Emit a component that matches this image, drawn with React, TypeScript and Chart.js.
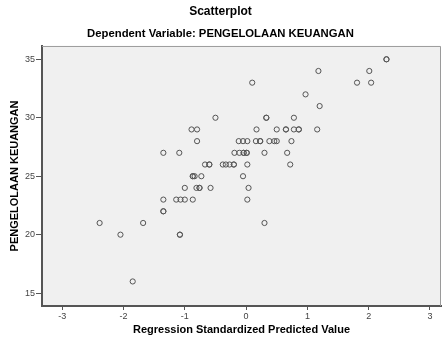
import React, { useEffect, useRef } from "react";
import { Chart, registerables } from "chart.js";

Chart.register(...registerables);

// Regression standardized predicted value (x) and observed PENGELOLAAN KEUANGAN (y)
const predictedValues: number[] = [
  2.29, 2.29,
  1.18, 2.01,
  0.10, 1.81, 2.04,
  0.97,
  1.20,
  -0.50, 0.33, 0.33, 0.78,
  -0.89, -0.80, 0.17, 0.50, 0.65, 0.65, 0.78, 0.86, 0.86, 1.16,
  -0.80, -0.12, -0.05, 0.02, 0.16, 0.23, 0.23, 0.38, 0.46, 0.50, 0.74,
  -1.35, -1.09, -0.19, -0.11, -0.04, -0.04, 0.01, 0.01, 0.30, 0.67,
  -0.67, -0.60, -0.60, -0.38, -0.33, -0.27, -0.20, -0.20, 0.02, 0.72,
  -0.87, -0.87, -0.84, -0.73, -0.05,
  -1.00, -0.81, -0.76, -0.76, -0.58, 0.04,
  -1.35, -1.14, -1.07, -1.00, -0.87, 0.02,
  -1.35, -1.35,
  -2.39, -1.68, 0.30,
  -2.05, -1.08, -1.08,
  -1.85,
];

const observedValues: number[] = [
  35, 35,
  34, 34,
  33, 33, 33,
  32,
  31,
  30, 30, 30, 30,
  29, 29, 29, 29, 29, 29, 29, 29, 29, 29,
  28, 28, 28, 28, 28, 28, 28, 28, 28, 28, 28,
  27, 27, 27, 27, 27, 27, 27, 27, 27, 27,
  26, 26, 26, 26, 26, 26, 26, 26, 26, 26,
  25, 25, 25, 25, 25,
  24, 24, 24, 24, 24, 24,
  23, 23, 23, 23, 23, 23,
  22, 22,
  21, 21, 21,
  20, 20, 20,
  16,
];

const chartTitle = "Scatterplot";
const chartSubtitle = "Dependent Variable: PENGELOLAAN KEUANGAN";
const xAxisTitle = "Regression Standardized Predicted Value";
const yAxisTitle = "PENGELOLAAN KEUANGAN";

const FONT = "'Liberation Sans', Arial, sans-serif";

const framePlugin = {
  id: "frame",
  beforeDraw(chart: any) {
    const { ctx, chartArea } = chart;
    ctx.save();
    ctx.fillStyle = "#f0f0f0";
    ctx.fillRect(chartArea.left, chartArea.top, chartArea.right - chartArea.left, chartArea.bottom - chartArea.top);
    ctx.restore();
  },
  afterDraw(chart: any) {
    const { ctx, chartArea } = chart;
    ctx.save();
    ctx.strokeStyle = "#9a9a9a";
    ctx.lineWidth = 1;
    ctx.beginPath();
    ctx.moveTo(chartArea.left, chartArea.top + 0.5);
    ctx.lineTo(chartArea.right - 0.5, chartArea.top + 0.5);
    ctx.lineTo(chartArea.right - 0.5, chartArea.bottom);
    ctx.stroke();
    ctx.restore();
  },
};

export default function App() {
  const ref = useRef<HTMLCanvasElement | null>(null);

  useEffect(() => {
    document.body.style.margin = "0";
    const canvas = ref.current;
    if (!canvas) return;
    const points = predictedValues.map((x, i) => ({ x, y: observedValues[i] }));
    const chart = new Chart(canvas, {
      type: "scatter",
      data: {
        datasets: [
          {
            data: points,
            pointStyle: "circle",
            pointRadius: 2.6,
            pointHoverRadius: 2.6,
            backgroundColor: "rgba(0,0,0,0)",
            borderColor: "#555555",
            borderWidth: 1,
          },
        ],
      },
      plugins: [framePlugin],
      options: {
        responsive: false,
        animation: false,
        devicePixelRatio: 1,
        layout: { autoPadding: false, padding: { top: 0, right: 1, bottom: 0, left: 0 } },
        plugins: {
          legend: { display: false },
          tooltip: { enabled: false },
          title: {
            display: true,
            text: chartTitle,
            color: "#000",
            font: { family: FONT, size: 12, weight: "bold" },
            padding: { top: 4.8, bottom: 2 },
          },
          subtitle: {
            display: true,
            text: chartSubtitle,
            color: "#000",
            font: { family: FONT, size: 11.3, weight: "bold" },
            padding: { top: 6, bottom: 5.2 },
          },
        },
        scales: {
          x: {
            type: "linear",
            min: -3.33,
            max: 3.18,
            afterFit(scale: any) {
              scale.height = 31;
              scale.paddingLeft = 0;
              scale.paddingRight = 0;
            },
            border: { display: true, color: "#555", width: 2 },
            grid: { display: true, drawOnChartArea: false, drawTicks: true, tickLength: 4, color: "#555" },
            ticks: {
              stepSize: 1,
              includeBounds: false,
              color: "#444",
              padding: 1,
              maxRotation: 0,
              font: { family: FONT, size: 9 },
            },
            title: {
              display: true,
              text: xAxisTitle,
              color: "#000",
              font: { family: FONT, size: 11, weight: "bold" },
              padding: { top: 0, bottom: 0 },
            },
          },
          y: {
            type: "linear",
            min: 13.9,
            max: 36.14,
            afterFit(scale: any) {
              scale.width = 42;
              scale.paddingTop = 0;
              scale.paddingBottom = 0;
            },
            border: { display: true, color: "#555", width: 2 },
            grid: { display: true, drawOnChartArea: false, drawTicks: true, tickLength: 6, color: "#555" },
            ticks: {
              stepSize: 5,
              includeBounds: false,
              color: "#444",
              padding: 1,
              font: { family: FONT, size: 9 },
            },
            title: {
              display: true,
              text: yAxisTitle,
              color: "#000",
              font: { family: FONT, size: 11, weight: "bold" },
              padding: { top: 8, bottom: 0 },
            },
          },
        },
      },
    });
    return () => chart.destroy();
  }, []);

  return (
    <div style={{ width: 442, height: 337, background: "#fff" }}>
      <canvas ref={ref} width={442} height={337} />
    </div>
  );
}
